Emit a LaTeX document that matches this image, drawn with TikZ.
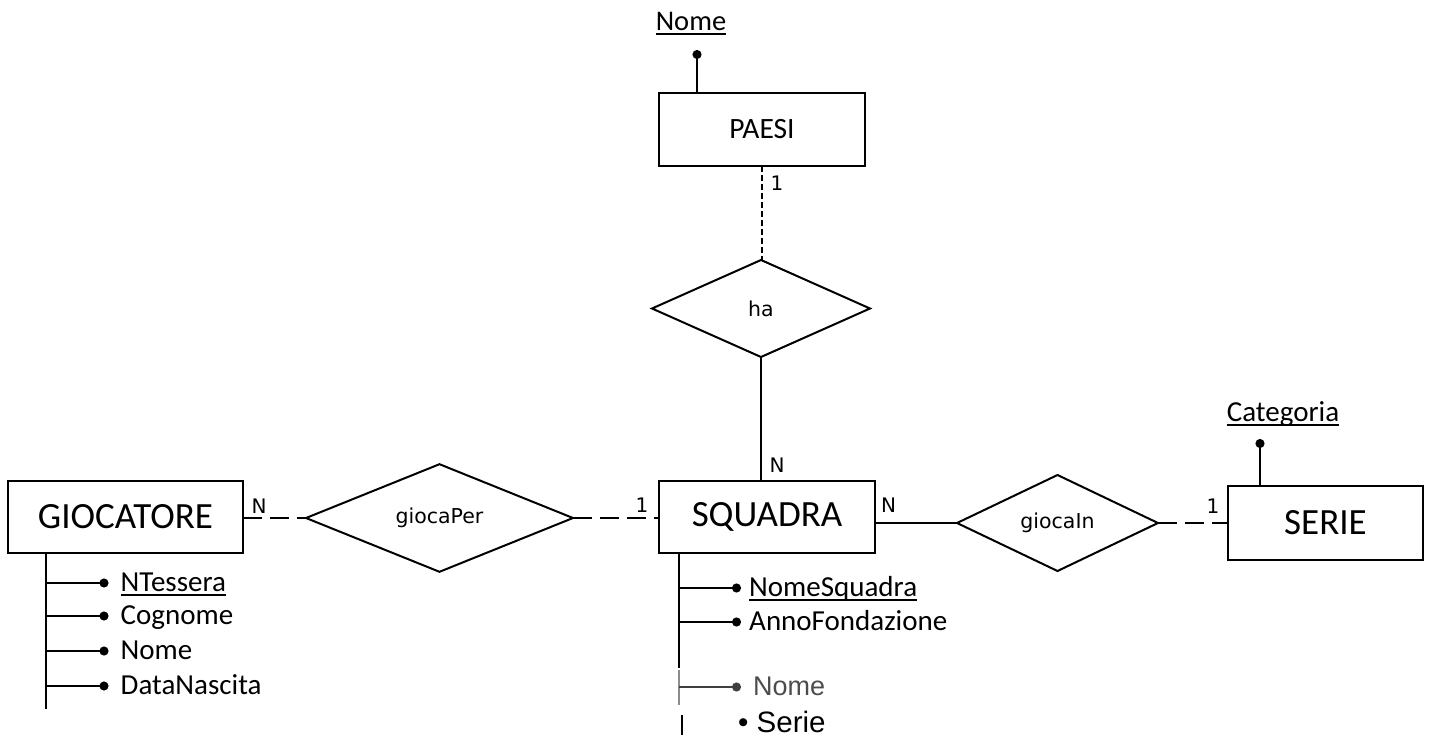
\documentclass[tikz,border=0pt]{standalone}
\usepackage{fontspec}
\setmainfont{Carlito}
\newfontfamily\verd{DejaVu Sans}
\newfontfamily\arialf{Liberation Sans}
\usetikzlibrary{shapes.geometric,arrows.meta,calc}
\newcommand\uln[1]{\setbox0\hbox{#1}\rlap{\rule[-4.5pt]{\wd0}{2pt}}\box0}
\begin{document}
\begin{tikzpicture}[x=1pt,y=-1pt,
 ent/.style={draw,line width=2.2pt,rectangle,outer sep=0pt,inner sep=0pt,font=\fontsize{37}{44}\selectfont},
 rel/.style={draw,line width=2pt,diamond,outer sep=0pt,inner sep=0pt,font=\verd\fontsize{20.5}{24}\selectfont},
 card/.style={font=\verd\fontsize{20}{22}\selectfont,inner sep=0pt},
 attr/.style={anchor=west,inner xsep=10pt,inner ysep=0pt,text height=19pt,text depth=3pt,font=\fontsize{29}{33}\selectfont},
 solidline/.style={line width=2pt},
 trunk/.style={line width=2.2pt},
 longdash/.style={line width=2pt,dash pattern=on 19pt off 8pt},
 shortdash/.style={line width=2pt,dash pattern=on 6pt off 3pt},
 dotline/.style={line width=2pt,-{Circle[length=9pt]}},
]
\useasboundingbox (0,0) rectangle (1439,735);

% entities
\node[ent,minimum width=206pt,minimum height=73pt,font=\fontsize{29.5}{34}\selectfont] (paesi) at (762,129.5) {PAESI};
\node[ent,minimum width=235pt,minimum height=72pt] (gioc) at (125.5,517) {GIOCATORE};
\node[ent,minimum width=216pt,minimum height=72pt] (squadra) at (767,517) {SQUADRA};
\node[ent,minimum width=195pt,minimum height=74pt] (serie) at (1325.5,523) {SERIE};

% relationships
\node[rel,minimum width=218pt,minimum height=97pt] (ha) at (761,308.5) {ha};
\node[rel,minimum width=267pt,minimum height=105pt] (gper) at (439.5,518) {giocaPer};
\node[rel,minimum width=201pt,minimum height=96pt] (gin) at (1057.5,523) {giocaIn};

% connectors
\draw[shortdash] (paesi.south) -- (paesi.south |- ha.north);
\draw[solidline] (ha.south) -- (ha.south |- squadra.north);
\draw[longdash] (gioc.east |- gper.west) -- (gper.west);
\draw[longdash] (gper.east) -- (gper.east -| squadra.west);
\draw[solidline] (gin.west -| squadra.east) -- (gin.west);
\draw[longdash] (gin.east) -- (gin.east -| serie.west);

% cardinalities
\node[card] (c1) at (777,183) {1};
\node[card] (c2) at (777,465) {N};
\node[card] (c3) at (259,506) {N};
\node[card] (c4) at (642,505) {1};
\node[card] (c5) at (888.5,505) {N};
\node[card] (c6) at (1213,506) {1};

% key attributes of PAESI and SERIE
\node[font=\fontsize{28.5}{32}\selectfont,inner sep=0pt,anchor=base] (pnome) at (691,31) {\uln{Nome}};
\coordinate (pdot) at (697,50);
\draw[dotline] (paesi.north -| pdot) -- (pdot);
\node[font=\fontsize{29}{33}\selectfont,inner sep=0pt,anchor=base] (scat) at (1283,421) {\uln{Categoria}};
\coordinate (sdot) at (1260,439);
\draw[dotline] (serie.north -| sdot) -- (sdot);

% GIOCATORE attributes
\coordinate (gt0) at (46,553);
\coordinate (gt1) at (46,709);
\draw[trunk] (gioc.south -| gt0) -- (gt1);
\node[attr,inner xsep=12pt] (a1) at (108.5,583) {\uln{NTessera}};
\node[attr,inner xsep=12pt] (a2) at (108.5,616) {Cognome};
\node[attr,inner xsep=12pt] (a3) at (108.5,651) {Nome};
\node[attr,inner xsep=12pt] (a4) at (108.5,686) {DataNascita};
\draw[dotline] (gt0 |- a1.west) -- (a1.west);
\draw[dotline] (gt0 |- a2.west) -- (a2.west);
\draw[dotline] (gt0 |- a3.west) -- (a3.west);
\draw[dotline] (gt0 |- a4.west) -- (a4.west);

% SQUADRA attributes
\coordinate (st0) at (679,553);
\coordinate (st1) at (679,668);
\draw[trunk] (squadra.south -| st0) -- (st1);
\node[attr,inner xsep=8pt] (b1) at (741,588) {\uln{NomeSquadra}};
\node[attr,inner xsep=8pt] (b2) at (741,622) {AnnoFondazione};
\draw[dotline] (st0 |- b1.west) -- (b1.west);
\draw[dotline] (st0 |- b2.west) -- (b2.west);

\coordinate (gt2) at (679,670);
\coordinate (gt3) at (679,705);
\draw[line width=2.6pt,black!45] (gt2) -- (gt3);
\node[attr,inner xsep=12pt,font=\arialf\fontsize{27}{31}\selectfont,text=black!70] (b3) at (741,687) {Nome};
\draw[dotline,black!75] (gt2 |- b3.west) -- (b3.west);

\coordinate (lt0) at (682,715);
\coordinate (lt1) at (682,735);
\draw[trunk] (lt0) -- (lt1);
\node[anchor=base west,inner sep=0pt,font=\arialf\fontsize{29.5}{33}\selectfont] (b4) at (738,732) {• Serie};
\end{tikzpicture}
\end{document}
